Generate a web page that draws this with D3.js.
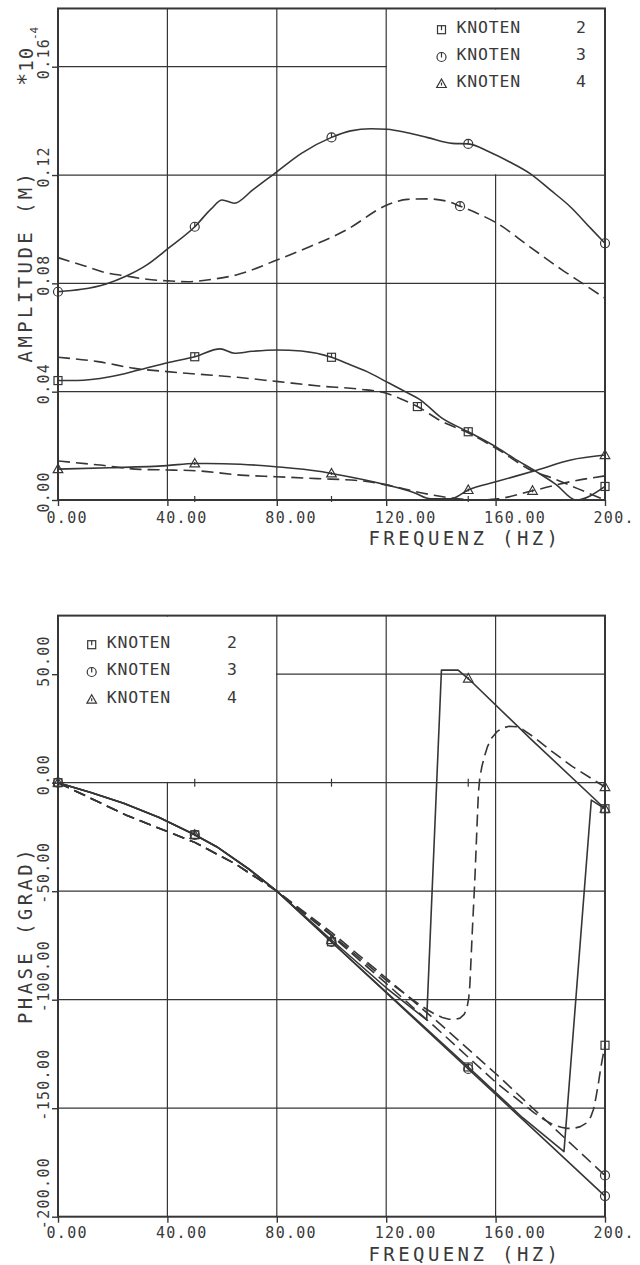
<!DOCTYPE html>
<html><head><meta charset="utf-8">
<script src="https://cdn.jsdelivr.net/npm/d3@7"></script>
<style>
html,body{margin:0;padding:0;background:#fff;}
svg{display:block;}
text{font-family:"DejaVu Sans Mono","Liberation Mono",monospace;fill:#3a3a3a;}
</style></head><body>
<svg id="c" width="640" height="1265"></svg>
<script>
// ---------------- DATA ----------------
const freqTicks = [0, 40, 80, 120, 160, 200];
const freqTickLabels = ["0.00", "40.00", "80.00", "120.00", "160.00", "200."];
const ampTicks = [0, 0.04, 0.08, 0.12, 0.16];
const ampTickLabels = ["0.00", "0.04", "0.08", "0.12", "0.16"];
const phaseTicks = [-200, -150, -100, -50, 0, 50];
const phaseTickLabels = ["-200.00", "-150.00", "-100.00", "-50.00", "0.00", "50.00"];
const minorTicks = [50, 100, 150];
const legendLabels = ["KNOTEN", "KNOTEN", "KNOTEN"];
const legendNumbers = ["2", "3", "4"];
const legendSymbols = ["square", "circle", "triangle"];
const solidMarkerFreqs = [0, 50, 100, 150, 200];
const xTitle = "FREQUENZ (HZ)";
const ampTitle = "AMPLITUDE (M)";
const phaseTitle = "PHASE (GRAD)";

// Amplitude (units of 1e-4 m) : [frequency Hz, value]
const ampK2Solid = [[0,0.0441],[7,0.0441],[19,0.0455],[29.5,0.048],[40,0.0507],[50,0.0529],[59.3,0.0558],[64.5,0.0542],[71,0.0549],[80,0.0554],[89,0.055],[100,0.0527],[106,0.0503],[113,0.0474],[120,0.0437],[126,0.0405],[132.6,0.0369],[140,0.0305],[150,0.0252],[160,0.0197],[167,0.0152],[175,0.0104],[182,0.0058],[189.4,0.0],[200,0.005]];
const ampK2Dashed = [[0,0.0527],[14.6,0.0511],[28,0.0486],[40,0.0474],[50.7,0.0465],[65.6,0.0453],[80.6,0.0437],[95.5,0.0421],[110.4,0.0409],[119.4,0.0396],[125,0.0375],[131.4,0.0345],[140,0.0292],[150,0.0248],[160,0.0192],[174,0.0105],[181,0.008],[190,0.0042],[200,0.0]];
const ampK3Solid = [[0,0.0769],[8.6,0.0778],[17.6,0.0798],[25,0.0827],[32.5,0.0868],[40.4,0.093],[50,0.1009],[56,0.1075],[60,0.1108],[64.5,0.1096],[71.2,0.1145],[80,0.1212],[89,0.128],[100,0.1339],[107,0.1363],[114.4,0.1371],[120.3,0.1369],[127.8,0.1356],[135.2,0.1338],[144.2,0.1317],[150,0.1315],[157.6,0.1286],[165,0.1249],[172.5,0.1206],[180,0.1145],[187.3,0.1083],[194.8,0.1003],[200,0.0948]];
const ampK3Dashed = [[0,0.0895],[8.6,0.0868],[17.6,0.0839],[25,0.0827],[32.5,0.0815],[40.4,0.0809],[47.4,0.0806],[56.3,0.0815],[65.2,0.0831],[80,0.0886],[92,0.0935],[105.4,0.0997],[120.3,0.1089],[127.8,0.111],[135.2,0.1112],[142.7,0.1102],[147,0.1085],[153.2,0.1059],[160.5,0.1022],[172.5,0.0935],[184.4,0.0849],[191.8,0.08],[200,0.0745]];
const ampK4Solid = [[0,0.0114],[19,0.0119],[39.8,0.0127],[50,0.0135],[54.5,0.0135],[66.7,0.0132],[79.6,0.0123],[96,0.0105],[100,0.0098],[120.4,0.0055],[130,0.0028],[136.3,0.0004],[143.6,0.0004],[150,0.0037],[160.4,0.0068],[175.3,0.0111],[187.5,0.0148],[200,0.0166]];
const ampK4Dashed = [[0,0.0144],[15.3,0.0129],[30,0.0113],[39.8,0.0111],[52,0.0107],[66.7,0.0092],[79.6,0.0086],[94.8,0.0079],[110.6,0.0071],[120.4,0.0055],[132.6,0.0027],[144.8,0.0006],[154.6,0.0],[160.7,0.0004],[173.5,0.0034],[187.5,0.0068],[200,0.0089]];
const ampDashedMarkerFreqs = [131.4, 147, 173.5];

// Phase (degrees) : [frequency Hz, value]
const phK2Solid = [[0,0],[12,-4.5],[24,-9.5],[37,-16],[50,-24],[58,-29.5],[70,-40],[80,-50],[100,-73.3],[120,-96.5],[150,-131],[170,-154.5],[185,-170],[195,-8],[200,-12]];
const phK3Solid = [[0,0],[12,-4.5],[24,-9.5],[37,-16],[50,-24],[58,-29.5],[70,-40],[80,-50],[100,-73.4],[120,-96.8],[150,-131.9],[180,-167],[200,-190.5]];
const phK4Solid = [[0,0],[12,-4.5],[24,-9.5],[37,-16],[50,-24],[58,-29.5],[70,-40],[80,-50],[100,-72.5],[120,-94.5],[134.8,-109.3],[140.2,51.9],[146.3,51.9],[150,48],[173,20],[200,-12]];
const phK2Dashed = [[0,0],[10,-6],[25,-15],[50,-27.5],[65,-37.5],[80,-50],[100,-70.5],[120,-92.5],[140,-115],[160,-138],[174,-152],[178,-155.5],[181,-157.5],[184,-158.8],[186,-159.3],[188.5,-159.3],[191,-158.5],[193,-157],[194.8,-154],[195.8,-150.5],[196.7,-145],[197.6,-138.5],[198.5,-131],[199.3,-125.5],[200,-121]];
const phK3Dashed = [[0,0],[10,-6],[25,-15],[50,-27.5],[65,-37.5],[80,-50],[100,-69],[120,-90],[140,-111.5],[160,-134],[180,-157.5],[200,-181]];
const phK4Dashed = [[0,0],[10,-6],[25,-15],[50,-27.5],[65,-37.5],[80,-50],[100,-70],[120,-91],[133,-103],[135.5,-105],[138,-106.8],[140.5,-108.2],[143,-109],[145,-109.1],[147,-108.5],[148.5,-106.8],[149.5,-104],[150.2,-99],[150.6,-93],[151.5,-68],[152.4,-45],[153.2,-20],[153.7,-5],[154.2,2],[155,7.5],[156,12.5],[157,16.5],[158.5,20.5],[160.5,23.5],[162.5,25.2],[165,26],[167.5,25.8],[170,24.5],[174,21],[180,15],[188,7.5],[200,-2]];
const phDashedMarkerFreqs = [200, 200, 200];

// ---------------- DRAWING ----------------
const ink = "#363636";
const svg = d3.select("#c");
svg.append("rect").attr("width", 640).attr("height", 1265).attr("fill", "#fff");

function symbol(g, type, cx, cy) {
  const s = g.append("g").attr("transform", `translate(${cx},${cy})`)
    .attr("fill", "none").attr("stroke", ink).attr("stroke-width", 1.2);
  if (type === "square") {
    s.append("rect").attr("x", -4).attr("y", -4).attr("width", 8).attr("height", 8);
    s.append("line").attr("x1", 0).attr("x2", 0).attr("y1", -4).attr("y2", 0.5);
  } else if (type === "circle") {
    s.append("circle").attr("r", 4.5);
    s.append("line").attr("x1", 0).attr("x2", 0).attr("y1", -4.5).attr("y2", 0.5);
  } else {
    s.append("path").attr("d", "M0,-5L4.8,3.5L-4.8,3.5Z");
    s.append("line").attr("x1", 0).attr("x2", 0).attr("y1", -1.5).attr("y2", 1.5);
  }
}

function drawPanel(cfg) {
  const x = d3.scaleLinear().domain([0, 200]).range([58, 605]);
  const y = cfg.y;
  const top = y(cfg.topVal), bottom = y(cfg.yTicks[0]);
  const g = svg.append("g");

  // grid
  const grid = g.append("g").attr("stroke", ink).attr("stroke-width", 1.2);
  grid.selectAll("line.v").data(freqTicks.slice(1, -1)).join("line")
    .attr("x1", d => x(d)).attr("x2", d => x(d)).attr("y1", top).attr("y2", bottom);
  grid.selectAll("line.h").data(cfg.yTicks.slice(1)).join("line")
    .attr("x1", x(0)).attr("x2", x(200)).attr("y1", d => y(d)).attr("y2", d => y(d));
  // legend area blank
  const lb = cfg.legendBox;
  g.append("rect").attr("x", x(lb[0]) + 0.8).attr("y", top + 1)
    .attr("width", x(lb[1]) - x(lb[0]) - 1.6).attr("height", y(lb[2]) - top - 1.8)
    .attr("fill", "#fff");

  // frame
  g.append("rect").attr("x", x(0)).attr("y", top).attr("width", x(200) - x(0)).attr("height", bottom - top)
    .attr("fill", "none").attr("stroke", ink).attr("stroke-width", 2);

  // x axis
  const xa = g.append("g").attr("transform", `translate(0,${bottom})`)
    .call(d3.axisBottom(x).tickValues(freqTicks).tickFormat((d, i) => freqTickLabels[i]).tickSize(6).tickSizeOuter(0));
  xa.select(".domain").remove();
  xa.attr("font-family", null).attr("font-size", null);
  xa.selectAll("line").attr("stroke", ink).attr("stroke-width", 1.4);
  xa.selectAll("text").attr("text-anchor", "start").attr("x", -12).attr("y", cfg.xLabelDy).attr("dy", null)
    .attr("fill", ink).style("font-size", "15px").style("letter-spacing", "1.3px");

  // y axis
  const ya = g.append("g").attr("transform", `translate(${x(0)},0)`)
    .call(d3.axisLeft(y).tickValues(cfg.yTicks).tickFormat((d, i) => cfg.yLabels[i]).tickSize(6).tickSizeOuter(0));
  ya.select(".domain").remove();
  ya.attr("font-family", null).attr("font-size", null);
  ya.selectAll("line").attr("stroke", ink).attr("stroke-width", 1.4);
  ya.selectAll("text").attr("x", null).attr("y", null).attr("dy", null).attr("text-anchor", "start")
    .attr("fill", ink).style("font-size", "15px").style("letter-spacing", "1.3px")
    .attr("transform", `translate(${49 - x(0)},12) rotate(-90)`);

  // minor ticks
  g.append("g").selectAll("line").data(minorTicks).join("line")
    .attr("x1", d => x(d)).attr("x2", d => x(d))
    .attr("y1", y(cfg.minorAt) - cfg.minorUp).attr("y2", y(cfg.minorAt) + cfg.minorDown)
    .attr("stroke", ink).attr("stroke-width", 1.2);

  // titles
  g.append("text").attr("x", 465).attr("y", cfg.xTitleY).attr("text-anchor", "middle")
    .style("font-size", "19px").style("letter-spacing", "3.4px").text(xTitle);
  g.append("text").attr("transform", `translate(32,${cfg.yTitleCenter}) rotate(-90)`).attr("text-anchor", "middle")
    .style("font-size", "19px").style("letter-spacing", "3.4px").text(cfg.yTitle);

  // data
  const line = d3.line().x(d => x(d[0])).y(d => y(d[1])).curve(cfg.curve);
  const lines = g.append("g").attr("fill", "none").attr("stroke", ink).attr("stroke-width", 1.6)
    .attr("stroke-linejoin", "round");
  cfg.series.forEach(s => {
    lines.append("path").attr("d", line(s.data))
      .attr("stroke-dasharray", s.dashed ? "12,6" : null);
  });
  // markers
  const mk = g.append("g");
  cfg.series.forEach(s => {
    s.data.filter(d => s.marks.includes(d[0])).forEach(d => symbol(mk, s.sym, x(d[0]), y(d[1])));
  });

  // legend
  const lg = g.append("g");
  legendLabels.forEach((lab, i) => {
    const by = cfg.legendY[i];
    symbol(lg, legendSymbols[i], cfg.legendX, by - 3);
    lg.append("text").attr("x", cfg.legendX + 15).attr("y", by)
      .style("font-size", "16.5px").style("letter-spacing", "0.8px").text(lab);
    lg.append("text").attr("x", cfg.legendNumX).attr("y", by).attr("text-anchor", "middle")
      .style("font-size", "16.5px").text(legendNumbers[i]);
  });
  return g;
}

// Amplitude panel
const yAmp = d3.scaleLinear().domain([0, 0.16]).range([500, 66.7]);
const gA = drawPanel({
  y: yAmp, topVal: 0.1815, yTicks: ampTicks, yLabels: ampTickLabels, curve: d3.curveMonotoneX,
  legendBox: [120, 200, 0.12], xLabelDy: 22.5, xTitleY: 545,
  yTitle: ampTitle, yTitleCenter: 266, minorAt: 0, minorUp: 4, minorDown: 2,
  legendX: 441.5, legendNumX: 581, legendY: [32.7, 60, 87],
  series: [
    {data: ampK2Solid, dashed: false, sym: "square", marks: solidMarkerFreqs},
    {data: ampK3Solid, dashed: false, sym: "circle", marks: solidMarkerFreqs},
    {data: ampK4Solid, dashed: false, sym: "triangle", marks: solidMarkerFreqs},
    {data: ampK2Dashed, dashed: true, sym: "square", marks: [ampDashedMarkerFreqs[0]]},
    {data: ampK3Dashed, dashed: true, sym: "circle", marks: [ampDashedMarkerFreqs[1]]},
    {data: ampK4Dashed, dashed: true, sym: "triangle", marks: [ampDashedMarkerFreqs[2]]}
  ]
});
// scale factor label
const sf = gA.append("text").attr("transform", "translate(33,86) rotate(-90)").attr("text-anchor", "start")
  .style("font-size", "19px").style("letter-spacing", "1px");
sf.append("tspan").style("font-size", "22px").text("*");
sf.append("tspan").text("10");
gA.append("text").attr("transform", "translate(37.5,40) rotate(-90)").attr("text-anchor", "start")
  .style("font-size", "11px").text("-4");

// Phase panel
const yPh = d3.scaleLinear().domain([-200, 0]).range([1216.7, 782.7]);
drawPanel({
  y: yPh, topVal: 77, yTicks: phaseTicks, yLabels: phaseTickLabels, curve: d3.curveLinear,
  legendBox: [0, 80, 0], xLabelDy: 21.5, xTitleY: 1260.5,
  yTitle: phaseTitle, yTitleCenter: 935, minorAt: 0, minorUp: 4, minorDown: 4,
  legendX: 91.7, legendNumX: 232, legendY: [647.7, 675, 702.7],
  series: [
    {data: phK2Solid, dashed: false, sym: "square", marks: solidMarkerFreqs},
    {data: phK3Solid, dashed: false, sym: "circle", marks: solidMarkerFreqs},
    {data: phK4Solid, dashed: false, sym: "triangle", marks: solidMarkerFreqs},
    {data: phK2Dashed, dashed: true, sym: "square", marks: [phDashedMarkerFreqs[0]]},
    {data: phK3Dashed, dashed: true, sym: "circle", marks: [phDashedMarkerFreqs[1]]},
    {data: phK4Dashed, dashed: true, sym: "triangle", marks: [phDashedMarkerFreqs[2]]}
  ]
});
</script>
</body></html>
